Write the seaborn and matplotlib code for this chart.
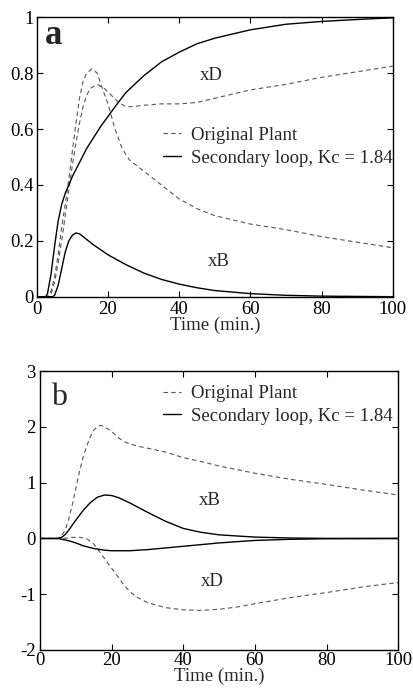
import matplotlib
matplotlib.use("Agg")
import matplotlib.pyplot as plt
import seaborn as sns
import pandas as pd

# ---- Panel a data ----
a_orig1_t = [0, 3, 4, 5, 6, 7, 8, 9, 10, 11, 12, 13, 14, 15.5, 17, 18, 20, 22, 24, 26, 30, 35, 40, 45, 50, 60, 70, 80, 90, 100]
a_orig1_y = [0, 0, 0.02, 0.07, 0.15, 0.25, 0.33, 0.42, 0.52, 0.62, 0.71, 0.77, 0.80, 0.815, 0.80, 0.76, 0.69, 0.60, 0.53, 0.49, 0.45, 0.40, 0.35, 0.315, 0.29, 0.26, 0.24, 0.215, 0.195, 0.175]
a_orig2_t = [0, 3, 4, 5, 6, 7, 8, 9, 10, 11, 12, 13, 14, 15, 17, 19, 21, 23, 25, 27, 30, 35, 40, 45, 50, 55, 60, 70, 80, 90, 100]
a_orig2_y = [0, 0, 0.01, 0.05, 0.12, 0.20, 0.29, 0.38, 0.47, 0.55, 0.62, 0.68, 0.72, 0.745, 0.76, 0.745, 0.72, 0.695, 0.68, 0.68, 0.685, 0.69, 0.69, 0.695, 0.71, 0.725, 0.74, 0.76, 0.785, 0.805, 0.825]
a_secD_t = [0, 2.5, 3, 4, 5, 6, 7, 8, 9, 10, 12, 14, 16, 18, 20, 22, 25, 30, 35, 40, 45, 50, 60, 70, 80, 90, 100]
a_secD_y = [0, 0, 0.01, 0.08, 0.18, 0.27, 0.33, 0.37, 0.40, 0.43, 0.48, 0.53, 0.57, 0.61, 0.645, 0.68, 0.73, 0.79, 0.84, 0.875, 0.905, 0.925, 0.955, 0.975, 0.985, 0.992, 0.998]
a_secB_t = [0, 4.5, 5, 6, 7, 8, 9, 10, 11, 12, 14, 16, 20, 25, 30, 35, 40, 45, 50, 60, 70, 80, 90, 100]
a_secB_y = [0, 0, 0.005, 0.04, 0.10, 0.16, 0.20, 0.22, 0.228, 0.225, 0.205, 0.185, 0.15, 0.115, 0.085, 0.062, 0.045, 0.032, 0.022, 0.011, 0.005, 0.002, 0.001, 0]

# ---- Panel b data ----
b_origB_t = [0, 5, 6, 7, 8, 9, 10, 11, 12, 13, 14, 15, 16, 17, 18, 20, 22, 24, 27, 30, 35, 40, 45, 50, 60, 70, 80, 90, 100]
b_origB_y = [0, 0, 0.05, 0.15, 0.35, 0.6, 0.9, 1.2, 1.45, 1.65, 1.82, 1.94, 2.01, 2.03, 2.0, 1.92, 1.8, 1.72, 1.66, 1.62, 1.55, 1.45, 1.38, 1.3, 1.17, 1.06, 0.97, 0.87, 0.78]
b_secB_t = [0, 5, 6, 7, 8, 10, 12, 14, 16, 18, 20, 22, 25, 30, 35, 40, 45, 50, 60, 70, 80, 100]
b_secB_y = [0, 0, 0.02, 0.07, 0.15, 0.33, 0.5, 0.64, 0.74, 0.78, 0.77, 0.73, 0.64, 0.47, 0.31, 0.18, 0.11, 0.065, 0.025, 0.008, 0.002, 0]
b_secD_t = [0, 5, 8, 10, 12, 15, 18, 20, 25, 30, 35, 40, 45, 50, 60, 70, 80, 100]
b_secD_y = [0, 0, -0.04, -0.08, -0.13, -0.18, -0.21, -0.22, -0.22, -0.2, -0.17, -0.14, -0.11, -0.08, -0.035, -0.015, -0.005, 0]
b_origD_t = [0, 5, 7, 9, 11, 13, 15, 17, 19, 21, 23, 25, 27, 30, 35, 40, 45, 50, 55, 60, 70, 80, 90, 100]
b_origD_y = [0, 0, 0.005, 0.02, 0.02, 0, -0.1, -0.27, -0.45, -0.62, -0.8, -0.95, -1.05, -1.15, -1.24, -1.28, -1.29, -1.27, -1.23, -1.17, -1.06, -0.97, -0.87, -0.79]

a_yticks = [0, 0.2, 0.4, 0.6, 0.8, 1]
a_yticklabels = ["0", "0.2", "0.4", "0.6", "0.8", "1"]
b_yticks = [-2, -1, 0, 1, 2, 3]
b_yticklabels = ["-2", "-1", "0", "1", "2", "3"]
xticks = [0, 20, 40, 60, 80, 100]
xticklabels = ["0", "20", "40", "60", "80", "100"]

sns.set_style("ticks")
plt.rcParams["font.family"] = ["Liberation Serif", "DejaVu Serif"]

FS = 13.5
fig = plt.figure(figsize=(4.13, 6.90), dpi=100)
axa = fig.add_axes([0.089, 0.570, 0.862, 0.405])
axb = fig.add_axes([0.097, 0.058, 0.867, 0.404])

dash_kw = dict(color="#555555", linewidth=0.8, dashes=(4, 3))
solid_kw = dict(color="black", linewidth=1.0)


def draw(ax, t, y, kind, label=None):
    df = pd.DataFrame({"t": t, "y": y})
    kw = dash_kw if kind == "dash" else solid_kw
    sns.lineplot(data=df, x="t", y="y", ax=ax, label=label, legend=False, **kw)


# Panel a
draw(axa, a_orig1_t, a_orig1_y, "dash", "Original Plant")
draw(axa, a_orig2_t, a_orig2_y, "dash")
draw(axa, a_secD_t, a_secD_y, "solid", "Secondary loop, Kc = 1.84")
draw(axa, a_secB_t, a_secB_y, "solid")

# Panel b
draw(axb, b_origB_t, b_origB_y, "dash", "Original Plant")
draw(axb, b_origD_t, b_origD_y, "dash")
draw(axb, b_secB_t, b_secB_y, "solid", "Secondary loop, Kc = 1.84")
draw(axb, b_secD_t, b_secD_y, "solid")

for ax, yt, ytl, ylim, xpad, lpad, ypad in [(axa, a_yticks, a_yticklabels, (0, 1), 3.0, -1.0, 2.0),
                                            (axb, b_yticks, b_yticklabels, (-2, 3), 1.5, -0.8, 3.0)]:
    ax.set_xlim(0, 100)
    ax.set_ylim(*ylim)
    ax.set_xticks(xticks)
    ax.set_xticklabels(xticklabels)
    ax.set_yticks(yt)
    ax.set_yticklabels(ytl)
    ax.tick_params(direction="in", length=4, width=0.8, top=True, right=True,
                   labelsize=FS, colors="black")
    ax.tick_params(axis="x", pad=xpad)
    ax.tick_params(axis="y", pad=ypad)
    for s in ax.spines.values():
        s.set_visible(True)
        s.set_linewidth(1.0)
        s.set_color("black")
    ax.set_xlabel("Time (min.)", fontsize=FS, labelpad=lpad)
    ax.set_ylabel("")

# annotations
axa.text(0.022, 0.935, "a", transform=axa.transAxes, fontsize=25, fontweight="bold", va="center", ha="left")
axb.text(0.030, 0.905, "b", transform=axb.transAxes, fontsize=23, va="center", ha="left")
axa.text(49, 0.79, "xD", fontsize=FS, ha="center", va="center")
axa.text(51, 0.125, "xB", fontsize=FS, ha="center", va="center")
axb.text(47.5, 0.69, "xB", fontsize=FS, ha="center", va="center")
axb.text(48, -0.78, "xD", fontsize=FS, ha="center", va="center")

leg_kw = dict(loc="center left", frameon=False, fontsize=FS, handlelength=0.95,
              handletextpad=0.55, labelspacing=0.3, borderaxespad=0)
axa.legend(bbox_to_anchor=(0.334, 0.537), **leg_kw)
axb.legend(bbox_to_anchor=(0.323, 0.879), **leg_kw)

fig.savefig("out.png", dpi=100)
